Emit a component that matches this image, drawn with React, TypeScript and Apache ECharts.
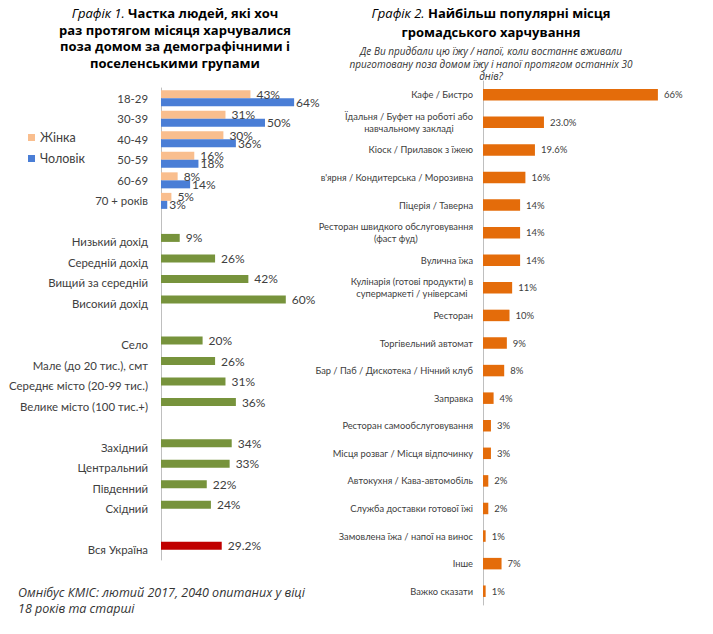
import React, { useEffect, useRef } from "react";
import * as echarts from "echarts";

// ---- Chart 1 data ----
const ageGroups = ["18-29", "30-39", "40-49", "50-59", "60-69", "70 + років"];
const femaleValues = [43, 31, 30, 16, 8, 5];
const maleValues = [64, 50, 36, 18, 14, 3];
const incomeGroups = ["Низький дохід", "Середній дохід", "Вищий за середній", "Високий дохід"];
const incomeValues = [9, 26, 42, 60];
const settlementGroups = ["Село", "Мале (до 20 тис.), смт", "Середнє місто (20-99 тис.)", "Велике місто (100 тис.+)"];
const settlementValues = [20, 26, 31, 36];
const regionGroups = ["Західний", "Центральний", "Південний", "Східний"];
const regionValues = [34, 33, 22, 24];
const totalLabel = "Вся Україна";
const totalValue = 29.2;
const legendNames = ["Жінка", "Чоловік"];

// ---- Chart 2 data ----
const placeCategories = [
  "Кафе / Бистро",
  "Їдальня / Буфет на роботі або\nнавчальному закладі",
  "Кіоск / Прилавок з їжею",
  "в'ярня / Кондитерська / Морозивна",
  "Піцерія / Таверна",
  "Ресторан швидкого обслуговування\n(фаст фуд)",
  "Вулична їжа",
  "Кулінарія (готові продукти) в\nсупермаркеті / універсамі",
  "Ресторан",
  "Торгівельний автомат",
  "Бар / Паб / Дискотека / Нічний клуб",
  "Заправка",
  "Ресторан самообслуговування",
  "Місця розваг / Місця відпочинку",
  "Автокухня / Кава-автомобіль",
  "Служба доставки готової їжі",
  "Замовлена їжа / напої на винос",
  "Інше",
  "Важко сказати",
];
const placeValues = [66, 23.0, 19.6, 16, 14, 14, 14, 11, 10, 9, 8, 4, 3, 3, 2, 2, 1, 7, 1];
const placeLabels = ["66%", "23.0%", "19.6%", "16%", "14%", "14%", "14%", "11%", "10%", "9%", "8%", "4%", "3%", "3%", "2%", "2%", "1%", "7%", "1%"];

const PEACH = "#F9BE8E";
const BLUE = "#4A7ED6";
const GREEN = "#77933C";
const RED = "#C00000";
const ORANGE = "#E46C0A";
const TXT = "#404040";
const FONT = "Lato, 'Noto Sans', sans-serif";
const TFONT = "'Open Sans', 'Noto Sans', sans-serif";

function buildLeft() {
  const cats: string[] = [];
  const a: any[] = [];
  const b: any[] = [];
  ageGroups.forEach((g, i) => {
    cats.push(g);
    a.push({ value: femaleValues[i] });
    b.push(maleValues[i]);
  });
  const addGroup = (groups: string[], vals: number[], color: string) => {
    cats.push("");
    a.push(null);
    b.push(null);
    groups.forEach((g, i) => {
      cats.push(g);
      a.push({ value: vals[i], itemStyle: { color } });
      b.push(null);
    });
  };
  addGroup(incomeGroups, incomeValues, GREEN);
  addGroup(settlementGroups, settlementValues, GREEN);
  addGroup(regionGroups, regionValues, GREEN);
  addGroup([totalLabel], [totalValue], RED);
  return { cats, a, b };
}

export default function App() {
  const ref = useRef<HTMLDivElement>(null);
  useEffect(() => {
    if (!ref.current) return;
    const chart = echarts.init(ref.current, null, { renderer: "svg" });
    const left = buildLeft();
    const labelFmt = (p: any) => (p.value == null ? "" : `${p.value}%`);
    const option: any = {
      animation: false,
      backgroundColor: "#ffffff",
      textStyle: { fontFamily: FONT },
      legend: {
        orient: "vertical",
        left: 28,
        top: 131,
        padding: 0,
        itemWidth: 7,
        itemHeight: 7,
        itemGap: 8,
        icon: "rect",
        data: legendNames,
        textStyle: { color: TXT, fontSize: 12.5, fontFamily: FONT },
        selectedMode: false,
      },
      grid: [
        { left: 161, top: 88, width: 208, height: 472 },
        { left: 483, top: 81, width: 212, height: 524 },
      ],
      xAxis: [
        { gridIndex: 0, type: "value", min: 0, max: 100, show: false },
        { gridIndex: 1, type: "value", min: 0, max: 80, show: false },
      ],
      yAxis: [
        {
          gridIndex: 0,
          type: "category",
          inverse: true,
          data: left.cats,
          axisLine: { lineStyle: { color: "#BFBFBF" } },
          axisTick: { show: false },
          axisLabel: { color: TXT, fontSize: 11.4, fontFamily: FONT, margin: 13, interval: 0 },
        },
        {
          gridIndex: 1,
          type: "category",
          inverse: true,
          data: placeCategories,
          axisLine: { lineStyle: { color: "#BFBFBF" } },
          axisTick: { show: false },
          axisLabel: {
            interval: 0,
            margin: 10,
            formatter: (v: string) => v.split("\n").map((l) => `{c|${l}}`).join("\n"),
            rich: { c: { align: "center", fontSize: 9.3, color: TXT, fontFamily: FONT, lineHeight: 11.7 } },
          },
        },
      ],
      series: [
        {
          name: legendNames[0],
          type: "bar",
          xAxisIndex: 0,
          yAxisIndex: 0,
          data: left.a,
          barWidth: 8,
          barGap: "0%",
          itemStyle: { color: PEACH },
          label: { show: true, position: "right", distance: 6, color: TXT, fontSize: 12, fontFamily: FONT, formatter: labelFmt },
        },
        {
          name: legendNames[1],
          type: "bar",
          xAxisIndex: 0,
          yAxisIndex: 0,
          data: left.b,
          barWidth: 8,
          barGap: "0%",
          itemStyle: { color: BLUE },
          label: { show: true, position: "right", distance: 2, color: TXT, fontSize: 12, fontFamily: FONT, formatter: labelFmt },
        },
        {
          name: "places",
          type: "bar",
          xAxisIndex: 1,
          yAxisIndex: 1,
          data: placeValues,
          barWidth: 11.5,
          itemStyle: { color: ORANGE },
          label: {
            show: true,
            position: "right",
            distance: 6,
            color: TXT,
            fontSize: 9.5,
            fontFamily: FONT,
            formatter: (p: any) => placeLabels[p.dataIndex],
          },
        },
      ],
      graphic: [
        {
          type: "text",
          x: 175,
          y: 5,
          style: {
            text:
              "{i|Графік 1.} {b|Частка людей, які хоч}\n{b|раз протягом місяця харчувалися}\n{b|поза домом за демографічними і}\n{b|поселенськими групами}",
            align: "center",
            verticalAlign: "top",
            rich: {
              i: { fontStyle: "italic", fontWeight: "normal", fontSize: 13, fontFamily: TFONT, fill: "#000", lineHeight: 16.5 },
              b: { fontWeight: "bold", fontSize: 13, fontFamily: TFONT, fill: "#000", lineHeight: 16.5 },
            },
            font: `bold 13px ${TFONT}`,
            lineHeight: 16.5,
          },
        },
        {
          type: "text",
          x: 491,
          y: 3,
          style: {
            text: "{i|Графік 2.} {b|Найбільш популярні місця}\n{b|громадського харчування}",
            align: "center",
            verticalAlign: "top",
            rich: {
              i: { fontStyle: "italic", fontWeight: "normal", fontSize: 13, fontFamily: TFONT, fill: "#000", lineHeight: 19 },
              b: { fontWeight: "bold", fontSize: 13, fontFamily: TFONT, fill: "#000", lineHeight: 19 },
            },
            font: `bold 13px ${TFONT}`,
            lineHeight: 19,
          },
        },
        {
          type: "text",
          x: 491,
          y: 45,
          style: {
            text: "Де Ви придбали цю їжу / напої, коли востаннє вживали\nприготовану поза домом їжу і напої протягом останніх 30\nднів?",
            align: "center",
            verticalAlign: "top",
            font: `italic 10px ${TFONT}`,
            lineHeight: 12.5,
            fill: "#333",
          },
        },
        {
          type: "text",
          x: 18,
          y: 584,
          style: {
            text: "Омнібус КМІС: лютий 2017, 2040 опитаних у віці\n18 років та старші",
            align: "left",
            verticalAlign: "top",
            font: `italic 12.5px ${TFONT}`,
            lineHeight: 16.5,
            fill: "#333",
          },
        },
      ],
    };
    chart.setOption(option);
    return () => chart.dispose();
  }, []);
  return <div ref={ref} style={{ width: 713, height: 634, margin: -8 }} />;
}
